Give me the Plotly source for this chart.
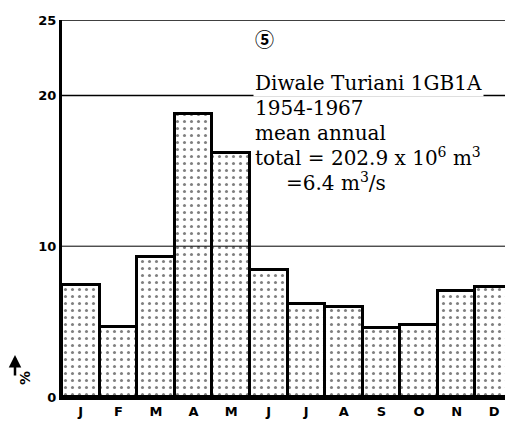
import plotly.graph_objects as go

month_labels = ["J", "F", "M", "A", "M", "J", "J", "A", "S", "O", "N", "D"]
percent = [7.4, 4.65, 9.3, 18.8, 16.2, 8.4, 6.15, 5.95, 4.6, 4.8, 7.0, 7.3]
ytick_vals = [0, 10, 20, 25]
grid_vals = [10, 20, 25]

# page offset of the plot div (browser body margin)
OFF = 8
W, H = 513 - OFF, 427 - OFF
ML, MR, MT, MB = 62 - OFF, 0, 20 - OFF, 30
pw, ph = W - ML - MR, H - MT - MB


def px(x):
    # x given in screenshot pixels
    return (x - OFF - ML) / pw


def py(y):
    return (H - MB - (y - OFF)) / ph


fig = go.Figure()
fig.add_trace(go.Bar(
    x=list(range(12)), y=percent,
    marker=dict(color="white", line=dict(color="black", width=3),
                pattern=dict(shape=".", fgcolor="black", bgcolor="white",
                             size=7, solidity=0.15)),
    width=1.0,
))

for g in grid_vals:
    fig.add_shape(type="line", xref="paper", yref="y", x0=0, x1=1, y0=g, y1=g,
                  line=dict(color="black", width=1.5 if g != 10 else 1), layer="above")

serif = "DejaVu Serif, Noto Sans CJK SC, serif"
lines = [
    (253, 40, "⑤", 19),
    (253, 83, "Diwale Turiani 1GB1A", 20),
    (253, 108, "1954-1967", 20),
    (253, 133, "mean annual", 20),
    (253, 157, "total = 202.9 x 10<sup>6</sup> m<sup>3</sup>", 20),
    (284, 182, "=6.4 m<sup>3</sup>/s", 20),
]
for (x, y, t, s) in lines:
    fig.add_annotation(xref="paper", yref="paper", x=px(x), y=py(y), text=t,
                       showarrow=False, xanchor="left", yanchor="middle",
                       font=dict(family=serif, size=s, color="black",
                                 weight="bold" if t == "⑤" else "normal"),
                       bgcolor="white" if "Diwale" in t else None)

fig.add_annotation(xref="paper", yref="paper", x=px(15), y=py(387), text="%",
                   textangle=-90, showarrow=False,
                   font=dict(family="DejaVu Sans", size=14, color="black", weight="bold"))
fig.add_annotation(xref="paper", yref="paper", x=px(15), y=py(355), ax=0, ay=22,
                   text="", showarrow=True,
                   arrowhead=2, arrowsize=1, arrowwidth=2.5, arrowcolor="black")

fig.update_layout(
    width=W, height=H, margin=dict(l=ML, r=MR, t=MT, b=MB),
    paper_bgcolor="white", plot_bgcolor="white", showlegend=False, bargap=0,
    xaxis=dict(tickmode="array", tickvals=list(range(12)), ticktext=month_labels,
               range=[-0.5, 11.5], showline=True, linecolor="black", linewidth=3,
               showgrid=False, ticks="", zeroline=False,
               tickfont=dict(family="DejaVu Sans", size=13, color="black", weight="bold")),
    yaxis=dict(range=[0, 25], tickvals=ytick_vals, showline=True, linecolor="black",
               linewidth=3, showgrid=False, ticks="", zeroline=False,
               tickfont=dict(family="DejaVu Sans", size=13, color="black", weight="bold")),
)
fig.write_html("out.html")
